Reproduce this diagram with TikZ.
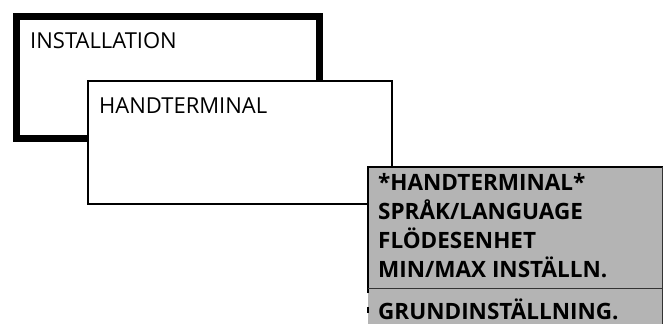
\documentclass[tikz,border=0pt]{standalone}
\usepackage{fontspec}
\setmainfont{Open Sans}
\definecolor{panelgray}{RGB}{180,180,180}
\tikzset{
  plainlabel/.style={anchor=base west, inner sep=0pt, font=\fontsize{22}{26}\selectfont},
  menulabel/.style={anchor=base west, inner sep=0pt, font=\fontsize{22.5}{26}\selectfont\bfseries},
}
\begin{document}
\begin{tikzpicture}[x=1pt,y=-1pt]
\useasboundingbox (0,0) rectangle (663,324);
% outer thick box
\draw[line width=7pt] (16,16) rectangle (319.5,138.5);
\node[plainlabel] (inst) at (30,48) {INSTALLATION};
% second box
\draw[line width=2pt, fill=white] (88,81) rectangle (392,204);
\node[plainlabel] (hand) at (99,113) {HANDTERMINAL};
% gray panel
\fill[panelgray] (367.5,166.5) rectangle (663,324);
\draw[line width=2pt] (367.5,293) -- (367.5,166.5) -- (663,166.5);
\draw[line width=1pt, black!80] (662,166.5) -- (662,324);
\draw[line width=1pt, black!80] (367.5,288.5) -- (663,288.5);
\draw[line width=2pt] (367.5,307) -- (367.5,313);
\node[menulabel] (m1) at (378,190) {*HANDTERMINAL*};
\node[menulabel] (m2) at (378,219) {SPRÅK/LANGUAGE};
\node[menulabel] (m3) at (378,248.5) {FLÖDESENHET};
\node[menulabel] (m4) at (378,277.5) {MIN/MAX INSTÄLLN.};
\node[menulabel] (m5) at (378,319) {GRUNDINSTÄLLNING.};
\end{tikzpicture}
\end{document}
